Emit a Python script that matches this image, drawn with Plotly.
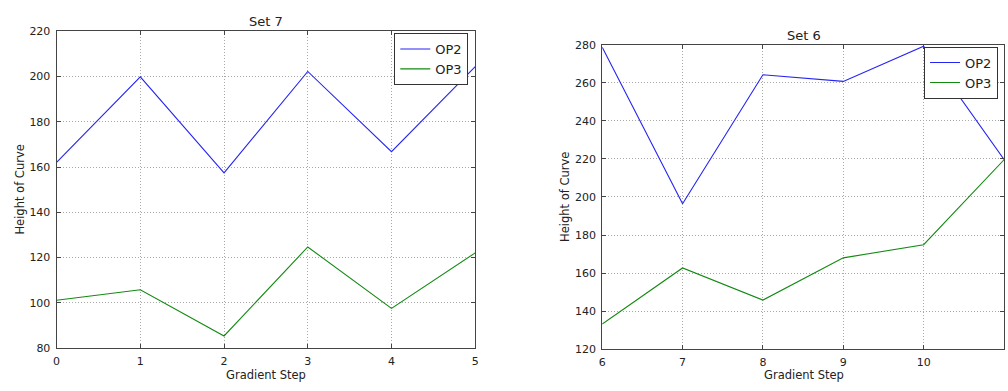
import plotly.graph_objects as go

W, H = 1008, 391

# Data
steps_set7 = [0, 1, 2, 3, 4, 5]
op2_set7 = [162.1, 199.8, 157.4, 202.2, 166.8, 204.3]
op3_set7 = [101.2, 105.8, 85.4, 124.7, 97.6, 122.1]

steps_set6 = [6, 7, 8, 9, 10, 11]
op2_set6 = [278.6, 196.4, 264.2, 260.7, 279.2, 219.7]
op3_set6 = [133.2, 162.7, 145.8, 168.0, 174.9, 219.5]

yticks_set7 = [80, 100, 120, 140, 160, 180, 200, 220]
yticks_set6 = [120, 140, 160, 180, 200, 220, 240, 260, 280]

BLUE = "#2424f4"
GREEN = "#128a12"
FONT = "DejaVu Sans"
TXT = "#222222"


def px_x(x):
    return x / W


def px_y(y):
    return (H - y) / H


fig = go.Figure()
fig.add_trace(go.Scatter(x=steps_set7, y=op2_set7, mode="lines", name="OP2",
                         line=dict(color=BLUE, width=1.1), xaxis="x", yaxis="y", legend="legend"))
fig.add_trace(go.Scatter(x=steps_set7, y=op3_set7, mode="lines", name="OP3",
                         line=dict(color=GREEN, width=1.1), xaxis="x", yaxis="y", legend="legend"))
fig.add_trace(go.Scatter(x=steps_set6, y=op2_set6, mode="lines", name="OP2",
                         line=dict(color=BLUE, width=1.1), xaxis="x2", yaxis="y2", legend="legend2"))
fig.add_trace(go.Scatter(x=steps_set6, y=op3_set6, mode="lines", name="OP3",
                         line=dict(color=GREEN, width=1.1), xaxis="x2", yaxis="y2", legend="legend2"))

axis_common = dict(
    showline=True, linecolor="#444444", linewidth=1, mirror="allticks",
    ticks="inside", ticklen=4, tickcolor="#444444",
    showgrid=True, gridcolor="#a8a8a8", griddash="1px,2px", gridwidth=1,
    zeroline=False, tickfont=dict(family=FONT, size=11, color=TXT),
)

legend_common = dict(
    xanchor="right", yanchor="top",
    bgcolor="white", bordercolor="#333333", borderwidth=1,
    font=dict(family=FONT, size=13, color=TXT),
    itemwidth=30, tracegroupgap=0,
)

fig.update_layout(
    width=W, height=H,
    margin=dict(l=0, r=0, t=0, b=0),
    paper_bgcolor="white", plot_bgcolor="white",
    font=dict(family=FONT, color=TXT),
    xaxis=dict(domain=[px_x(53), px_x(475)], range=[0, 5], tickvals=steps_set7,
               anchor="y", ticklabelstandoff=3, **axis_common),
    yaxis=dict(domain=[px_y(354), px_y(26)], range=[80, 220], tickvals=yticks_set7,
               anchor="x", ticklabelstandoff=3, **axis_common),
    xaxis2=dict(domain=[px_x(603), px_x(1008)], range=[6, 11], tickvals=steps_set6,
                anchor="y2", ticklabelstandoff=3, **axis_common),
    yaxis2=dict(domain=[px_y(355), px_y(40)], range=[120, 280], tickvals=yticks_set6,
                anchor="x2", ticklabelstandoff=3, **axis_common),
    legend=dict(x=px_x(468), y=px_y(28), **legend_common),
    legend2=dict(x=px_x(1002), y=px_y(42), **legend_common),
)

ann = []
def add_text(text, x, y, size, angle=0):
    ann.append(dict(text=text, x=px_x(x), y=px_y(y), xref="paper", yref="paper",
                    showarrow=False, xanchor="center", yanchor="middle",
                    textangle=angle, font=dict(family=FONT, size=size, color=TXT)))

add_text("Set 7", 264, 16, 13)
add_text("Set 6", 806, 31, 13)
add_text("Gradient Step", 264, 382, 11.5)
add_text("Gradient Step", 806, 382, 11.5)
add_text("Height of Curve", 16, 190, 11.5, -90)
add_text("Height of Curve", 566, 198, 11.5, -90)
fig.update_layout(annotations=ann)

fig.write_html("out.html")
